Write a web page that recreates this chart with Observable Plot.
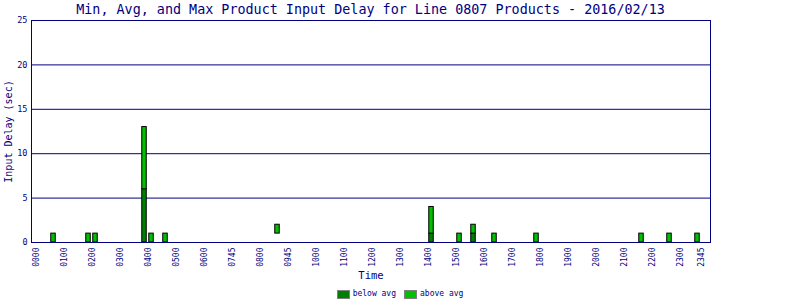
<!DOCTYPE html>
<html><head><meta charset="utf-8">
<script src="https://cdn.jsdelivr.net/npm/d3@7"></script>
<script src="https://cdn.jsdelivr.net/npm/@observablehq/plot@0.6"></script>
<style>
body{margin:0;background:#fff;width:800px;height:300px;overflow:hidden;font-family:"DejaVu Sans Mono",monospace;color:#000080}
#title{height:18px;line-height:19px;font-size:13.4px;text-align:center;width:741px;white-space:nowrap}
#chart{height:270px}
#legend{height:12px;display:flex;justify-content:center;align-items:center;font-size:8px;line-height:12px}
.sw{width:13px;height:9px;box-sizing:border-box;border:1px solid #808080;margin-right:3px}
.item{display:flex;align-items:center;margin:0 4px}
</style></head>
<body>
<div id="title">Min, Avg, and Max Product Input Delay for Line 0807 Products - 2016/02/13</div>
<div id="chart"></div>
<div id="legend"></div>
<script>
// 15-minute time slots of the day (categories)
const slots = d3.range(96).map(i => String(Math.floor(i / 4)).padStart(2, "0") + String((i % 4) * 15).padStart(2, "0"));
// tick labels as shown on the axis, and the slots they sit at
const tickSlots = ["0000","0100","0200","0300","0400","0500","0600","0700","0800","0900","1000","1100","1200","1300","1400","1500","1600","1700","1800","1900","2000","2100","2200","2300","2345"];
const tickLabels = ["0000","0100","0200","0300","0400","0500","0600","0745","0800","0945","1000","1100","1200","1300","1400","1500","1600","1700","1800","1900","2000","2100","2200","2300","2345"];
const yTicks = [0, 5, 10, 15, 20, 25];

// data
const times    = ["0030","0145","0200","0345","0400","0430","0830","1400","1500","1530","1615","1745","2130","2230","2330"];
const minDelay = [0, 0, 0, 0, 0, 0, 1, 0, 0, 0, 0, 0, 0, 0, 0];
const avgDelay = [0, 0, 0, 6, 0, 0, 1, 1, 0, 1, 0, 0, 0, 0, 0];
const maxDelay = [1, 1, 1, 13, 1, 1, 2, 4, 1, 2, 1, 1, 1, 1, 1];

const seriesNames = ["below avg", "above avg"];
const seriesColors = ["#008000", "#00c000"];
const navy = "#000080";
const font = "DejaVu Sans Mono";

const bars = times.map((t, k) => ({i: slots.indexOf(t), min: minDelay[k], avg: avgDelay[k], max: maxDelay[k]}));
const ticks = tickSlots.map((s, k) => ({i: slots.indexOf(s), label: tickLabels[k]}));
const hw = 0.32;

const plot = Plot.plot({
  width: 800, height: 270,
  marginLeft: 31, marginRight: 90, marginTop: 2, marginBottom: 46,
  style: {fontFamily: font, background: "#fff", overflow: "visible"},
  x: {type: "linear", domain: [-8/7, 671/7], axis: null},
  y: {domain: [0, 25], axis: null},
  marks: [
    Plot.ruleY(yTicks.filter(v => v > 0), {stroke: navy, strokeWidth: 1}),
    Plot.rect(bars.filter(d => d.avg > d.min), {x1: d => d.i - hw, x2: d => d.i + hw, y1: "min", y2: "avg", fill: seriesColors[0], stroke: "black", strokeWidth: 1}),
    Plot.rect(bars.filter(d => d.max > d.avg), {x1: d => d.i - hw, x2: d => d.i + hw, y1: "avg", y2: "max", fill: seriesColors[1], stroke: "black", strokeWidth: 1}),
    Plot.frame({stroke: navy, strokeWidth: 1}),
    Plot.text(yTicks, {y: d => d, text: d => String(d), frameAnchor: "left", textAnchor: "end", dx: -4, fill: navy, fontSize: 8.5}),
    Plot.text(ticks, {x: "i", text: "label", frameAnchor: "bottom", rotate: -90, textAnchor: "end", dy: 5, dx: -1, fill: navy, fontSize: 8}),
    Plot.text(["Time"], {text: d => d, frameAnchor: "bottom", dy: 36, fill: navy, fontSize: 10.5}),
    Plot.text(["Input Delay (sec)"], {text: d => d, frameAnchor: "left", textAnchor: "middle", rotate: -90, dx: -23, fill: navy, fontSize: 10})
  ]
});
document.getElementById("chart").appendChild(plot);

const legend = document.getElementById("legend");
seriesNames.forEach((n, k) => {
  const it = document.createElement("div"); it.className = "item";
  const sw = document.createElement("div"); sw.className = "sw"; sw.style.background = seriesColors[k];
  const tx = document.createElement("span"); tx.textContent = n;
  it.appendChild(sw); it.appendChild(tx); legend.appendChild(it);
});
</script>
</body></html>
